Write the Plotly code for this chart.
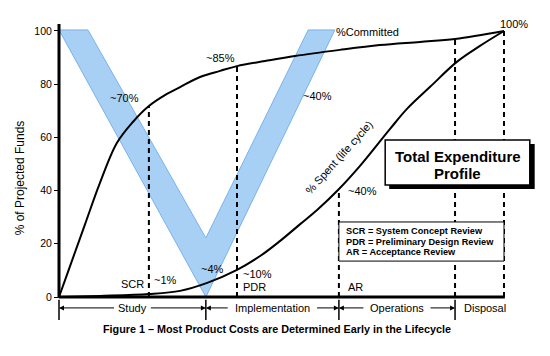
import plotly.graph_objects as go

# ---------------- data ----------------
# lifecycle position (0 = start, 100 = end of life)
life_x = [0, 2.5, 5.8, 9.2, 13.0, 16.6, 20.2, 23.8, 27.2, 31.7, 36.2, 40.0, 46.3, 53.0, 63.1, 72.1, 81.1, 89.0, 100]
committed = [0, 11.7, 27.1, 42.9, 57.9, 65.8, 71.8, 75.9, 78.9, 82.7, 85.0, 86.8, 88.7, 90.6, 92.9, 94.7, 95.9, 97.0, 100]

spent_x = [0, 9.2, 20.2, 27.2, 33.3, 40.0, 45.2, 49.7, 54.2, 58.0, 62.7, 67.6, 74.4, 78.2, 83.4, 89.4, 94.6, 100]
spent = [0, 0.4, 1.1, 2.3, 5.3, 10.2, 15.4, 21.1, 27.4, 32.7, 40.2, 49.2, 63.2, 70.7, 79.0, 88.4, 94.4, 100]

# blue "V" band
band_x = [0, 6.5, 33.0, 56.0, 62.0, 33.0, 0]
band_y = [100.4, 100.4, 22.2, 100.4, 100.4, 0, 100.4]

# milestones (dashed verticals)
mile_x = [20.2, 40.0, 62.9, 89.0, 100]
mile_top = [71.8, 86.8, 40.2, 97.0, 100]

phase_names = ["Study", "Implementation", "Operations", "Disposal"]
phase_bounds = [0, 33.0, 62.9, 89.0, 100]

y_ticks = [0, 20, 40, 60, 80, 100]

legend_lines = ["SCR = System Concept Review",
                "PDR = Preliminary Design Review",
                "AR = Acceptance Review"]

FONT = "Liberation Sans, Arial, sans-serif"

fig = go.Figure()

# band
fig.add_trace(go.Scatter(x=band_x, y=band_y, mode="lines", fill="toself",
                         fillcolor="rgb(168,208,244)",
                         line=dict(color="rgb(120,178,236)", width=1),
                         hoverinfo="skip", showlegend=False))

# dashed milestone lines
for mx, mt in zip(mile_x, mile_top):
    fig.add_trace(go.Scatter(x=[mx, mx], y=[0, mt], mode="lines",
                             line=dict(color="black", width=2, dash="5px,4px"),
                             hoverinfo="skip", showlegend=False))

# curves
fig.add_trace(go.Scatter(x=life_x, y=committed, mode="lines", line_shape="spline",
                         line=dict(color="black", width=2), showlegend=False))
fig.add_trace(go.Scatter(x=spent_x, y=spent, mode="lines", line_shape="spline",
                         line=dict(color="black", width=2), showlegend=False))

shapes = []
# axes lines
shapes.append(dict(type="line", xref="x", yref="y", x0=0, x1=0, y0=0, y1=102.6,
                   line=dict(color="black", width=3), layer="above"))
shapes.append(dict(type="line", xref="x", yref="y", x0=0, x1=100.2, y0=0, y1=0,
                   line=dict(color="black", width=3), layer="above"))
# Total Expenditure box: shadow + box
shapes.append(dict(type="rect", xref="x", yref="y", x0=74.2, x1=106.9, y0=40.6, y1=57.5,
                   fillcolor="black", line=dict(width=0), layer="above"))
shapes.append(dict(type="rect", xref="x", yref="y", x0=73.3, x1=105.8, y0=42.1, y1=59.0,
                   fillcolor="white", line=dict(color="black", width=1.5), layer="above"))
# legend box
shapes.append(dict(type="rect", xref="x", yref="y", x0=62.9, x1=100, y0=13.5, y1=28.2,
                   fillcolor="white", line=dict(color="black", width=1), layer="above"))
# phase tick bars
for b in phase_bounds[:-1]:
    shapes.append(dict(type="line", xref="x", yref="y", x0=b, x1=b, y0=-1.0, y1=-8.6,
                       line=dict(color="black", width=1.5), layer="above"))

ann = []
def txt(x, y, s, size=11, bold=False, xanchor="center", angle=0):
    ann.append(dict(x=x, y=y, xref="x", yref="y", text=f"<b>{s}</b>" if bold else s,
                    showarrow=False, xanchor=xanchor, yanchor="middle", textangle=angle,
                    font=dict(family=FONT, size=size, color="black")))

txt(14.8, 74.8, "~70%")
txt(36.2, 89.8, "~85%")
txt(58.2, 75.6, "~40%")
txt(61.8, 99.6, "%Committed", xanchor="left")
txt(102.2, 102.6, "100%")
txt(68.1, 39.8, "~40%")
txt(16.6, 4.9, "SCR")
txt(24.0, 6.4, "~1%")
txt(34.6, 10.5, "~4%")
txt(44.7, 8.6, "~10%")
txt(44.0, 3.8, "PDR")
txt(66.7, 3.8, "AR")
txt(63.0, 52.5, "% Spent (life cycle)", size=11, angle=-48)
txt(89.6, 53.0, "Total Expenditure", size=15, bold=True)
txt(89.6, 46.6, "Profile", size=15, bold=True)
for i, line in enumerate(legend_lines):
    txt(64.0, 24.8 - i * 4.0, line, size=9.2, bold=True, xanchor="left")

# phase labels & arrows
label_half = [3.8, 9.7, 7.2, 0]
phase_y = -4.1
for i, name in enumerate(phase_names):
    a, b = phase_bounds[i], phase_bounds[i + 1]
    c = (a + b) / 2 + (1.2 if name == "Disposal" else 0)
    txt(c, phase_y, name, size=11)
    if label_half[i] > 0:
        for head, tail in [(a, c - label_half[i]), (b, c + label_half[i])]:
            ann.append(dict(x=head, y=phase_y, ax=tail, ay=phase_y, xref="x", yref="y",
                            axref="x", ayref="y", text="", showarrow=True,
                            arrowhead=2, arrowsize=1, arrowwidth=1, arrowcolor="black"))

txt(49.0, -11.9, "Figure 1 – Most Product Costs are Determined Early in the Lifecycle",
    size=10.8, bold=True)

fig.update_layout(
    width=550, height=356, autosize=False,
    margin=dict(l=0, r=0, t=0, b=0, pad=0, autoexpand=False),
    paper_bgcolor="white", plot_bgcolor="white",
    shapes=shapes, annotations=ann, showlegend=False,
    xaxis=dict(range=[-13.26, 110.34], visible=False, fixedrange=True, automargin=False),
    yaxis=dict(range=[-22.18, 111.65], anchor="free", position=59 / 550, automargin=False,
               showgrid=False, zeroline=False, showline=False,
               tickvals=y_ticks, ticks="outside", ticklen=5, tickcolor="black",
               tickfont=dict(family=FONT, size=10.5, color="black"),
               title=dict(text="% of Projected Funds", font=dict(family=FONT, size=12, color="black"),
                          standoff=6),
               fixedrange=True),
)

fig.write_html("out.html", config={"displayModeBar": False},
               post_script="document.body.style.margin='0';document.body.style.overflow='hidden';")
